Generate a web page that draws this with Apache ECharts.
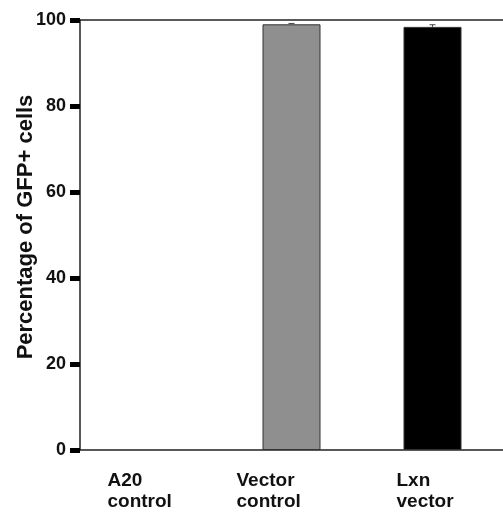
<!DOCTYPE html>
<html lang="en">
  <head>
    <meta charset="UTF-8" />
    <title>GFP+ cells</title>
    <script src="https://cdn.jsdelivr.net/npm/echarts@6/dist/echarts.min.js"></script>
  </head>
  <body style="margin: 0">
    <div id="chart" style="width: 503px; height: 518px"></div>
    <script>
      const categories = ['A20\ncontrol', 'Vector\ncontrol', 'Lxn\nvector'];
      const values = [0, 99.0, 98.4];
      const errors = [0, 0.2, 0.5];
      const barColors = ['#ffffff', '#8f8f8f', '#000000'];
      const yTicks = [0, 20, 40, 60, 80, 100];

      // the labels sit a bit left of the bars; each gets a box centred on the category
      const labelBoxWidth = [86, 110, 72];

      let rich = {};
      labelBoxWidth.forEach(function (w, i) {
        rich['c' + i] = {
          width: w,
          align: 'left',
          color: '#111',
          fontFamily: 'Liberation Sans',
          fontWeight: 'bold',
          fontSize: 19,
          lineHeight: 21,
        };
      });

      let myCharts = echarts.init(document.getElementById('chart'));
      let option = {
        animation: false,
        grid: { left: 80, right: 0, top: 20, bottom: 68, outerBoundsMode: 'none' },
        xAxis: {
          type: 'category',
          data: categories,
          axisLine: { lineStyle: { color: '#222', width: 1.5 } },
          axisTick: { show: false },
          axisLabel: {
            align: 'center',
            margin: 20,
            formatter: function (v, i) {
              return v
                .split('\n')
                .map(function (line) {
                  return '{c' + i + '|' + line + '}';
                })
                .join('\n');
            },
            rich: rich,
          },
        },
        yAxis: {
          type: 'value',
          min: 0,
          max: 100,
          interval: 20,
          name: 'Percentage of GFP+ cells',
          nameLocation: 'middle',
          nameGap: 43,
          nameMoveOverlap: false,
          nameTextStyle: {
            color: '#111',
            fontFamily: 'Liberation Sans',
            fontWeight: 'bold',
            fontSize: 22,
            padding: [0, 0, 0, 16],
          },
          axisLine: { show: true, lineStyle: { color: '#222', width: 1.5 } },
          axisTick: { show: true, length: 10, lineStyle: { color: '#000', width: 5 } },
          splitLine: { show: false },
          axisLabel: {
            margin: 14,
            color: '#111',
            fontFamily: 'Liberation Sans',
            fontWeight: 'bold',
            fontSize: 18,
            formatter: function (v) {
              return yTicks.indexOf(v) >= 0 ? String(v) : '';
            },
          },
        },
        series: [
          {
            type: 'bar',
            barWidth: 58,
            data: values.map(function (v, i) {
              return {
                value: v,
                itemStyle: { color: barColors[i], borderColor: '#333', borderWidth: i === 0 ? 0 : 1 },
              };
            }),
          },
          {
            type: 'custom',
            data: values.map(function (v, i) {
              return [i, v, errors[i]];
            }),
            renderItem: function (params, api) {
              if (api.value(2) <= 0) return null;
              let hi = api.coord([api.value(0), api.value(1) + api.value(2)]);
              let lo = api.coord([api.value(0), api.value(1)]);
              return {
                type: 'group',
                children: [
                  {
                    type: 'line',
                    shape: { x1: hi[0], y1: hi[1], x2: lo[0], y2: lo[1] },
                    style: { stroke: '#444', lineWidth: 1 },
                  },
                  {
                    type: 'line',
                    shape: { x1: hi[0] - 3, y1: hi[1], x2: hi[0] + 3, y2: hi[1] },
                    style: { stroke: '#444', lineWidth: 1 },
                  },
                ],
              };
            },
            z: 5,
          },
        ],
        graphic: [
          {
            type: 'line',
            shape: { x1: 80, y1: 20, x2: 503, y2: 20 },
            style: { stroke: '#222', lineWidth: 1.5 },
          },
        ],
      };
      myCharts.setOption(option);
    </script>
  </body>
</html>
